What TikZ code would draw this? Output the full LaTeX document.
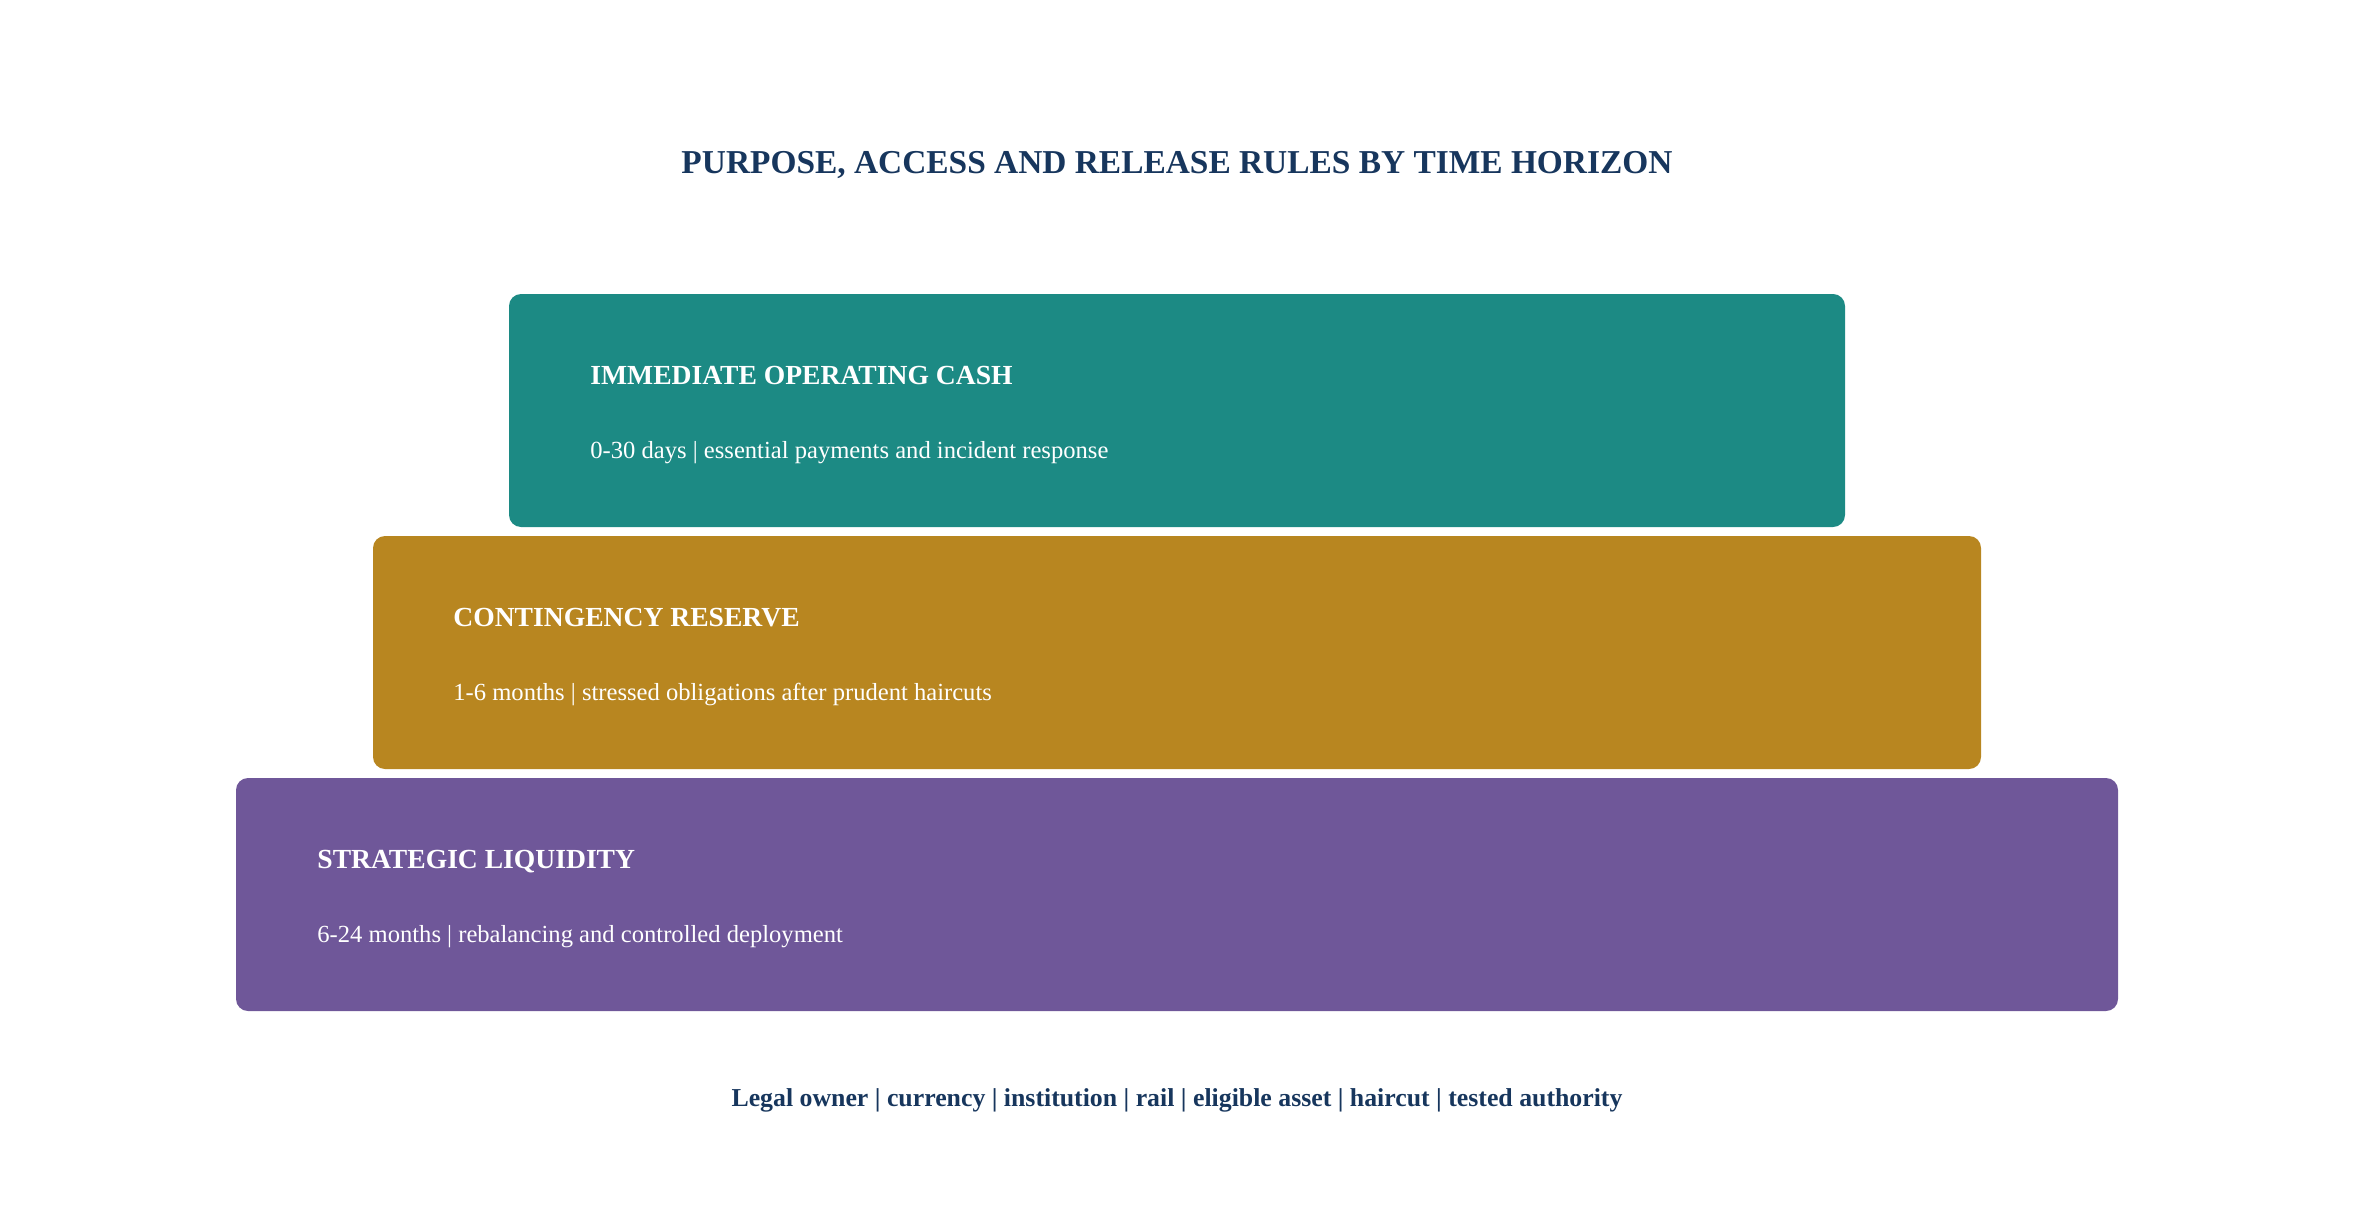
\documentclass[tikz,border=0pt]{standalone}
\usepackage{fontspec}
\setmainfont{Liberation Serif}
\definecolor{navy}{HTML}{17365D}
\definecolor{tealc}{HTML}{1C8A84}
\definecolor{goldc}{HTML}{B88620}
\definecolor{purplec}{HTML}{6F5799}
\begin{document}
\begin{tikzpicture}[x=0.5pt,y=-0.5pt,
  tier/.style={rounded corners=6pt, inner sep=0pt, minimum height=116.5pt, draw=none},
  head/.style={anchor=base west, inner sep=0pt, text=white, font=\fontsize{13.8}{16}\selectfont\bfseries},
  body/.style={anchor=base west, inner sep=0pt, text=white, font=\fontsize{12.3}{14}\selectfont},
  ttl/.style={anchor=base, inner sep=0pt, text=navy, font=\fontsize{16.7}{20}\selectfont\bfseries},
  foot/.style={anchor=base, inner sep=0pt, text=navy, font=\fontsize{12.9}{16}\selectfont\bfseries}]
\useasboundingbox (0,0) rectangle (2354,1209);
\node[ttl] (title) at (1177,174) {PURPOSE, ACCESS AND RELEASE RULES BY TIME HORIZON};
\node[tier, fill=tealc, minimum width=668pt] (b1) at (1177,410.5) {};
\node[tier, fill=goldc, minimum width=804pt] (b2) at (1177,652.5) {};
\node[tier, fill=purplec, minimum width=941pt] (b3) at (1177,894.5) {};
\node[head] (h1) at (590,384) {IMMEDIATE OPERATING CASH};
\node[body] (t1) at (590,458) {0-30 days | essential payments and incident response};
\node[head] (h2) at (453,626) {CONTINGENCY RESERVE};
\node[body] (t2) at (453,700) {1-6 months | stressed obligations after prudent haircuts};
\node[head] (h3) at (317,868) {STRATEGIC LIQUIDITY};
\node[body] (t3) at (317,942) {6-24 months | rebalancing and controlled deployment};
\node[foot] (footer) at (1177,1106) {Legal owner | currency | institution | rail | eligible asset | haircut | tested authority};
\end{tikzpicture}
\end{document}
